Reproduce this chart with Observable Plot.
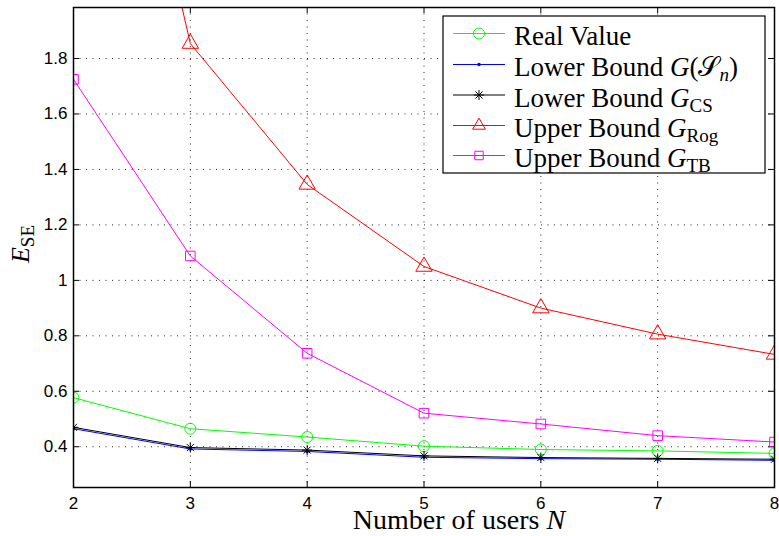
<!DOCTYPE html>
<html>
<head>
<meta charset="utf-8">
<script src="https://cdn.jsdelivr.net/npm/d3@7"></script>
<script src="https://cdn.jsdelivr.net/npm/@observablehq/plot@0.6"></script>
<style>
  body { margin: 0; background: #fff; }
  #chart { width: 779px; height: 536px; }
</style>
</head>
<body>
<div id="chart"></div>
<script>
// Number of users on the x axis
const users = [2, 3, 4, 5, 6, 7, 8];

// E_SE for each curve, one value per user count
const realValue = [0.577, 0.465, 0.435, 0.402, 0.390, 0.385, 0.376];
const lowerBoundSn = [0.465, 0.392, 0.383, 0.362, 0.357, 0.355, 0.351];
const lowerBoundCS = [0.470, 0.397, 0.388, 0.367, 0.361, 0.358, 0.355];
const upperBoundRog = [3.68, 1.854, 1.346, 1.050, 0.900, 0.806, 0.733];
const upperBoundTB = [1.725, 1.088, 0.737, 0.521, 0.482, 0.440, 0.417];

// Axis ticks
const xTicks = [2, 3, 4, 5, 6, 7, 8];
const xTickLabels = ["2", "3", "4", "5", "6", "7", "8"];
const yTicks = [0.4, 0.6, 0.8, 1, 1.2, 1.4, 1.6, 1.8];
const yTickLabels = ["0.4", "0.6", "0.8", "1", "1.2", "1.4", "1.6", "1.8"];

// Curve styling, in legend order
const series = [
  {key: "real", values: realValue, color: "#00ff00", marker: "circle"},
  {key: "sn", values: lowerBoundSn, color: "#0000ff", marker: "point"},
  {key: "cs", values: lowerBoundCS, color: "#000000", marker: "star"},
  {key: "rog", values: upperBoundRog, color: "#ff0000", marker: "triangle"},
  {key: "tb", values: upperBoundTB, color: "#ff00ff", marker: "square"}
];

const W = 779, H = 536;
const mL = 73, mR = 5, mT = 7, mB = 49;
const plotW = W - mL - mR, plotH = H - mT - mB;
const tickLen = 6;

function markerMarks(data, s) {
  const common = {x: "N", y: "value", stroke: s.color, clip: true, strokeWidth: 1};
  switch (s.marker) {
    case "circle": return [Plot.dot(data, {...common, r: 5.5, fill: "none"})];
    case "point": return [Plot.dot(data, {x: "N", y: "value", r: 1.8, fill: s.color, stroke: "none", clip: true})];
    case "star": return [
      Plot.dot(data, {...common, symbol: "plus", r: 3.3}),
      Plot.dot(data, {...common, symbol: "times", r: 3.3})
    ];
    case "triangle": return [Plot.dot(data, {...common, symbol: "triangle", r: 6.1, fill: "none"})];
    case "square": return [Plot.dot(data, {...common, symbol: "square", r: 5.4, fill: "none"})];
  }
  return [];
}

const curveMarks = series.flatMap(s => {
  const data = users.map((n, i) => ({N: n, value: s.values[i]}));
  return [
    Plot.line(data, {x: "N", y: "value", stroke: s.color, strokeWidth: 1, clip: true}),
    ...markerMarks(data, s)
  ];
});

const grid = {stroke: "#000", strokeWidth: 1, strokeDasharray: "1 5.5", strokeOpacity: 0.85};

const chart = Plot.plot({
  width: W,
  height: H,
  marginLeft: mL,
  marginRight: mR,
  marginTop: mT,
  marginBottom: mB,
  x: {domain: [2, 8]},
  y: {domain: [0.253, 1.984]},
  style: {fontFamily: "'Liberation Sans', Arial, sans-serif", fontSize: "17px", color: "#000", background: "#fff", overflow: "visible"},
  marks: [
    // dotted grid
    Plot.ruleX(xTicks.slice(1, -1), {x: d => d, ...grid}),
    Plot.ruleY(yTicks, {y: d => d, ...grid}),
    // tick labels
    Plot.axisX(xTicks, {tickSize: 0, tickPadding: 9, label: null, tickFormat: d => xTickLabels[xTicks.indexOf(d)]}),
    Plot.axisY(yTicks, {tickSize: 0, tickPadding: 6, label: null, tickFormat: d => yTickLabels[yTicks.indexOf(d)]}),
    // inward tick marks on all four sides
    Plot.tickX(xTicks, {x: d => d, insetTop: plotH - tickLen, stroke: "#000"}),
    Plot.tickX(xTicks, {x: d => d, insetBottom: plotH - tickLen, stroke: "#000"}),
    Plot.tickY(yTicks, {y: d => d, insetRight: plotW - tickLen, stroke: "#000"}),
    Plot.tickY(yTicks, {y: d => d, insetLeft: plotW - tickLen, stroke: "#000"}),
    ...curveMarks,
    Plot.frame({stroke: "#000", strokeWidth: 1.5})
  ]
});

document.getElementById("chart").appendChild(chart);

// Axis titles and legend with math-style subscripts
const svg = d3.select(chart);
const serif = "'Liberation Serif', 'Times New Roman', serif";

const xTitle = svg.append("text")
  .attr("x", 459).attr("y", 529)
  .attr("text-anchor", "middle")
  .attr("font-family", serif).attr("font-size", 28).attr("fill", "#000");
xTitle.append("tspan").text("Number of users ");
xTitle.append("tspan").attr("font-style", "italic").text("N");

const yTitle = svg.append("text")
  .attr("transform", "translate(29,244) rotate(-90)")
  .attr("text-anchor", "middle")
  .attr("font-family", serif).attr("font-size", 26).attr("fill", "#000");
yTitle.append("tspan").attr("font-style", "italic").text("E");
yTitle.append("tspan").attr("font-size", 19).attr("dy", 5).text("SE");

// Legend box
const legend = svg.append("g");
legend.append("rect")
  .attr("x", 443).attr("y", 16).attr("width", 322).attr("height", 157)
  .attr("fill", "#fff").attr("stroke", "#000").attr("stroke-width", 1.2);

const legendLabels = [
  [{t: "Real Value"}],
  [{t: "Lower Bound "}, {t: "G", i: true}, {t: "("}, {t: "𝒮"}, {t: "n", i: true, sub: true}, {t: ")", back: true}],
  [{t: "Lower Bound "}, {t: "G", i: true}, {t: "CS", sub: true}],
  [{t: "Upper Bound "}, {t: "G", i: true}, {t: "Rog", sub: true}],
  [{t: "Upper Bound "}, {t: "G", i: true}, {t: "TB", sub: true}]
];
const rowY = [33.5, 64.5, 95, 125.5, 155.5];

series.forEach((s, k) => {
  const y = rowY[k];
  const g = legend.append("g");
  g.append("line").attr("x1", 453).attr("x2", 505).attr("y1", y).attr("y2", y)
    .attr("stroke", s.color).attr("stroke-width", 1);
  const mx = 479;
  const sym = (type, r) => d3.symbol(type, Math.PI * r * r)();
  if (s.marker === "circle") {
    g.append("circle").attr("cx", mx).attr("cy", y).attr("r", 5.5).attr("fill", "none").attr("stroke", s.color);
  } else if (s.marker === "point") {
    g.append("circle").attr("cx", mx).attr("cy", y).attr("r", 1.8).attr("fill", s.color);
  } else if (s.marker === "star") {
    g.append("path").attr("transform", `translate(${mx},${y})`).attr("d", sym(d3.symbolPlus, 3.3)).attr("fill", "none").attr("stroke", s.color);
    g.append("path").attr("transform", `translate(${mx},${y})`).attr("d", sym(d3.symbolTimes, 3.3)).attr("fill", "none").attr("stroke", s.color);
  } else if (s.marker === "triangle") {
    g.append("path").attr("transform", `translate(${mx},${y})`).attr("d", sym(d3.symbolTriangle2, 6.1)).attr("fill", "none").attr("stroke", s.color);
  } else if (s.marker === "square") {
    g.append("path").attr("transform", `translate(${mx},${y})`).attr("d", sym(d3.symbolSquare2, 5.4)).attr("fill", "none").attr("stroke", s.color);
  }
  const text = g.append("text").attr("x", 514).attr("y", y + 11.5)
    .attr("text-anchor", "start")
    .attr("font-family", serif).attr("font-size", 27).attr("fill", "#000");
  legendLabels[k].forEach(p => {
    const ts = text.append("tspan").text(p.t);
    if (p.i) ts.attr("font-style", "italic");
    if (p.sub) ts.attr("font-size", 19).attr("dy", 5);
    if (p.back) ts.attr("dy", -5);
  });
});
</script>
</body>
</html>
